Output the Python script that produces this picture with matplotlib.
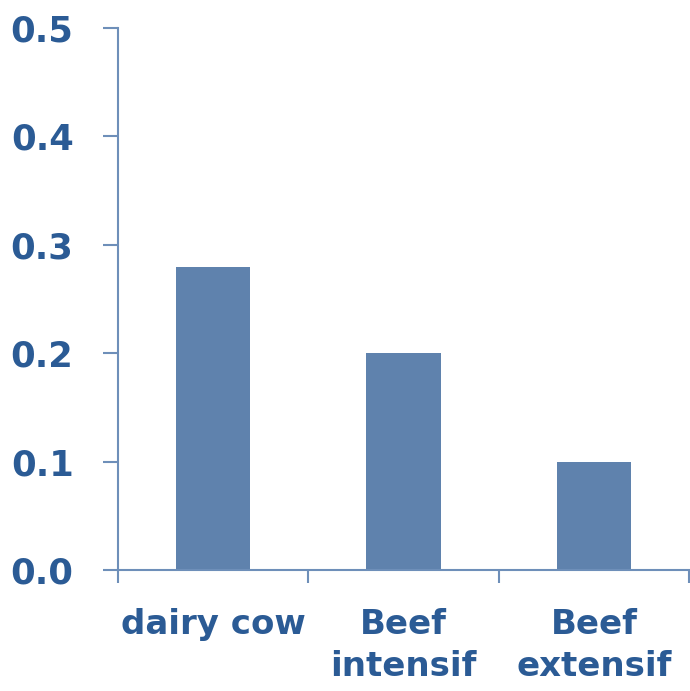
import matplotlib.pyplot as plt

# Bar values per livestock system
categories = ['dairy cow', 'Beef\nintensif', 'Beef\nextensif']
values = [0.28, 0.20, 0.10]
yticks = [0.0, 0.1, 0.2, 0.3, 0.4, 0.5]

text_color = '#2b5b95'
bar_color = '#5f82ad'
axis_color = '#6e8fb9'

fig = plt.figure(figsize=(6.90, 6.91), dpi=100)
ax = fig.add_axes([0.171, 0.175, 0.8276, 0.7845])

x = range(len(categories))
ax.bar(x, values, width=0.39, color=bar_color)

ax.set_xlim(-0.5, len(categories) - 0.5)
ax.set_ylim(0, 0.5)
ax.set_yticks(yticks)
ax.set_yticklabels([f'{v:.1f}' for v in yticks])

# category labels sit between boundary ticks
ax.set_xticks([i - 0.5 for i in range(len(categories) + 1)])
ax.set_xticklabels([])
ax.set_xticks(list(x), minor=True)
ax.set_xticklabels(categories, minor=True)
ax.tick_params(axis='x', which='minor', length=0, pad=27)
ax.tick_params(axis='x', which='major', length=9.5, width=1.5, color=axis_color, direction='out')
ax.tick_params(axis='y', length=11, width=1.5, color=axis_color, direction='out', pad=21)

for lab in ax.get_yticklabels():
    lab.set_color(text_color)
    lab.set_fontweight('bold')
    lab.set_fontsize(25.5)
for lab in ax.get_xticklabels(minor=True):
    lab.set_color(text_color)
    lab.set_fontweight('bold')
    lab.set_fontsize(24.5)
    lab.set_linespacing(1.35)
    lab.set_verticalalignment('top')

for side in ['top', 'right']:
    ax.spines[side].set_visible(False)
for side in ['left', 'bottom']:
    ax.spines[side].set_color(axis_color)
    ax.spines[side].set_linewidth(1.5)

fig.savefig('out.png', dpi=100)
